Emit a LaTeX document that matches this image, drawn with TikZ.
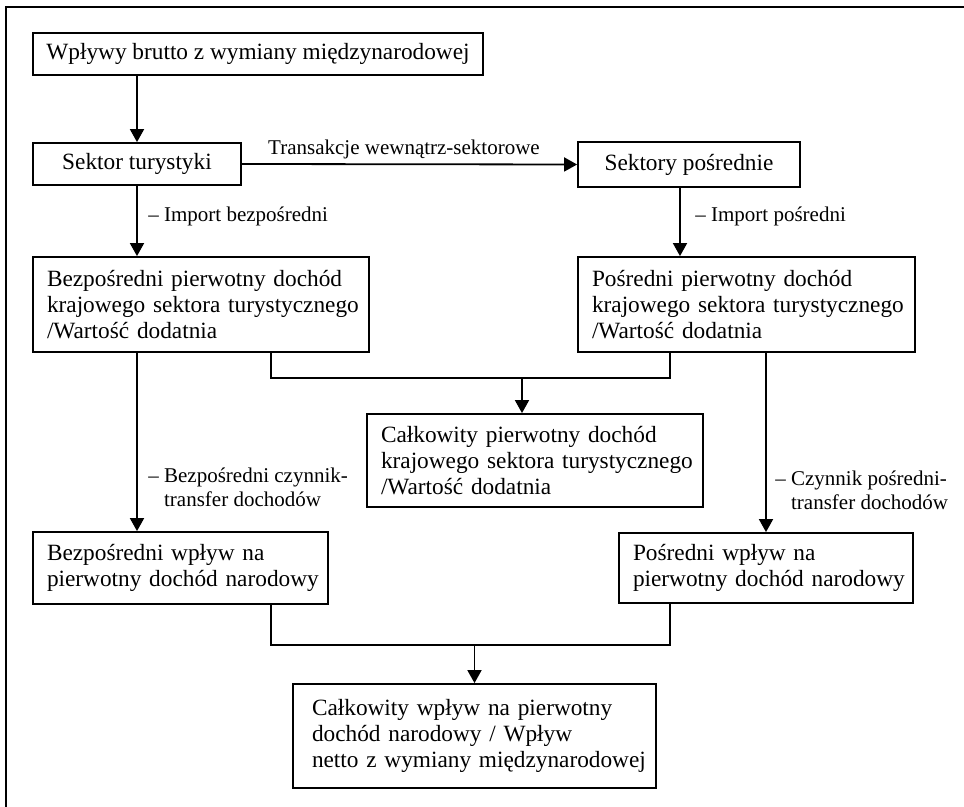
\documentclass[tikz,border=0pt]{standalone}
\usepackage{fontspec}
\setmainfont{Liberation Serif}
\usetikzlibrary{arrows.meta,calc}
\newcommand{\onel}[1]{\mbox{#1}}
\begin{document}
\begin{tikzpicture}[x=0.5pt,y=-0.5pt,
  txt/.style={font=\fontsize{11.65}{13}\selectfont},
  ltxt/.style={font=\fontsize{10.5}{12}\selectfont},
  sbox/.style={txt,draw,line width=0.9pt,inner sep=0pt,align=center},
  mbox/.style={txt,draw,line width=0.9pt,inner ysep=0pt,inner xsep=7pt,align=left},
  lbl/.style={ltxt,inner sep=0pt,align=left},
  conn/.style={line width=0.9pt},
  arr/.style={line width=0.9pt,-{Triangle[width=7pt,length=6.5pt]}}]
\useasboundingbox (0,0) rectangle (964,807);
\draw[line width=1.4pt] (964,7) -- (6,7) -- (6,807);
% boxes
\node[sbox,minimum width=225pt,minimum height=21pt] (b1) at (258,54) {Wpływy brutto z wymiany międzynarodowej};
\node[sbox,minimum width=104pt,minimum height=21pt] (b2) at (137,164) {Sektor turystyki};
\node[sbox,minimum width=111pt,minimum height=22.5pt] (b3) at (689,164.5) {Sektory pośrednie};
\node[mbox,text width=154pt,minimum height=47.5pt] (b4) at (201,304.5) {\onel{Bezpośredni pierwotny dochód}\\\onel{krajowego sektora turystycznego}\\\onel{/Wartość dodatnia}};
\node[mbox,text width=154.5pt,minimum height=47.5pt] (b5) at (746.5,304.5) {\onel{Pośredni pierwotny dochód}\\\onel{krajowego sektora turystycznego}\\\onel{/Wartość dodatnia}};
\node[mbox,text width=154pt,minimum height=46.5pt] (b6) at (535,460.5) {\onel{Całkowity pierwotny dochód}\\\onel{krajowego sektora turystycznego}\\\onel{/Wartość dodatnia}};
\node[mbox,text width=133.5pt,minimum height=36pt] (b7) at (180.5,568) {\onel{Bezpośredni wpływ na}\\\onel{pierwotny dochód narodowy}};
\node[mbox,text width=133pt,minimum height=35pt] (b8) at (766,568) {\onel{Pośredni wpływ na}\\\onel{pierwotny dochód narodowy}};
\node[mbox,inner xsep=9.5pt,text width=162.5pt,minimum height=52pt] (b9) at (474.5,736) {\onel{Całkowity wpływ na pierwotny}\\\onel{dochód narodowy / Wpływ}\\\onel{netto z wymiany międzynarodowej}};
% labels
\node[lbl,anchor=west] (l1) at (148,216) {– Import bezpośredni};
\node[lbl,anchor=west] (l2) at (695,216) {– Import pośredni};
\node[lbl,anchor=west] (l3) at (148,487) {– Bezpośredni czynnik-\\\hphantom{– }transfer dochodów};
\node[lbl,anchor=west] (l4) at (775,490) {– Czynnik pośredni-\\\hphantom{– }transfer dochodów};
\node[lbl,anchor=base] (l0) at (404,155) {Transakcje wewnątrz-sektorowe};
% connectors
\draw[arr] (b2.north |- b1.south) -- (b2.north);
\draw[arr] (b2.east) -- (b3.west);
\draw[arr] (b2.south) -- (b2.south |- b4.north);
\draw[arr] ([xshift=-4.5pt]b3.south) -- ([xshift=-4.5pt]b3.south |- b5.north);
\draw[arr] (b4.south -| b2.south) -- (b7.north -| b2.south);
\draw[arr] (b5.south -| b8.north) -- (b8.north);
\coordinate (j1) at (522,378);
\coordinate (j2) at (b9.north |- 0,645);
\draw[conn] (b4.south -| 271,0) |- (j1) -| (b5.south -| 670,0);
\draw[arr] (j1) -- (j1 |- b6.north);
\draw[conn] (b7.south -| 271,0) |- (j2) -| (b8.south -| 670,0);
\draw[arr] (j2) -- (b9.north);
\end{tikzpicture}
\end{document}
